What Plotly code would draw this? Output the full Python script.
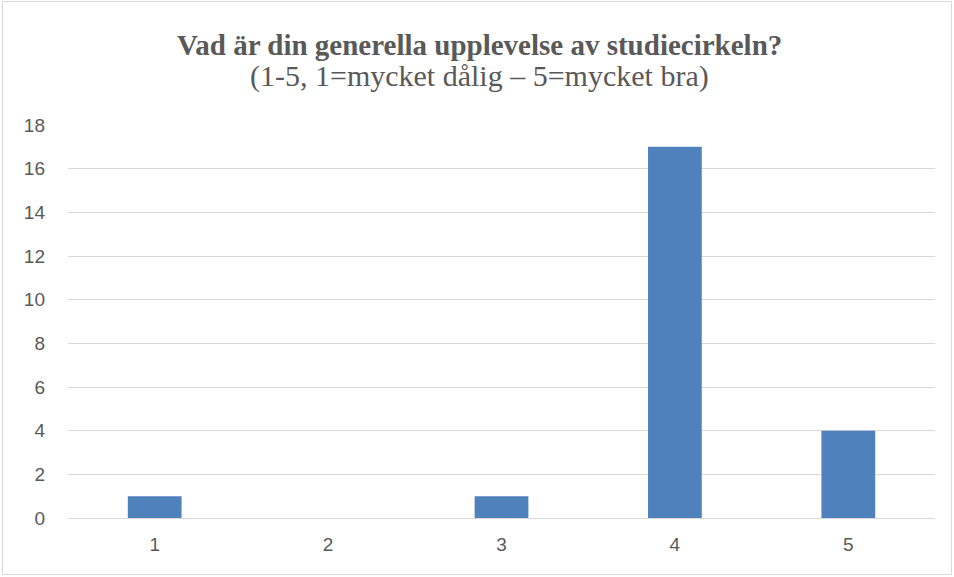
import plotly.graph_objects as go

categories = ["1", "2", "3", "4", "5"]
values = [1, 0, 1, 17, 4]
y_ticks = [0, 2, 4, 6, 8, 10, 12, 14, 16, 18]

title_text = "Vad är din generella upplevelse av studiecirkeln?"
subtitle_text = "(1-5, 1=mycket dålig – 5=mycket bra)"

W, H = 954, 577
L, R, T, B = 68, 19, 125, 59
pw, ph = W - L - R, H - T - B

def px(x):
    return (x - L) / pw

def py(y):
    return (H - B - y) / ph

tick_font = dict(family="Liberation Sans, Arial, sans-serif", size=19, color="#595959")

fig = go.Figure(go.Bar(
    x=categories, y=values,
    marker=dict(color="#4F81BD", line=dict(width=0)),
    width=0.31,
))

fig.update_layout(
    width=W, height=H,
    margin=dict(l=L, r=R, t=T, b=B),
    paper_bgcolor="white", plot_bgcolor="white",
    showlegend=False,
    font=tick_font,
    xaxis=dict(type="category", showgrid=False, showline=False, ticks="",
               ticklabelstandoff=13, tickfont=tick_font),
    yaxis=dict(range=[0, 18], tickvals=y_ticks, showgrid=True, gridcolor="#D9D9D9",
               gridwidth=1, zeroline=True, zerolinecolor="#D9D9D9", zerolinewidth=1,
               showline=False, ticks="", ticklabelstandoff=22, tickfont=tick_font),
    annotations=[
        dict(text="<b>" + title_text + "</b>", xref="paper", yref="paper",
             x=px(479), y=py(45), xanchor="center", yanchor="middle", showarrow=False,
             font=dict(family="Liberation Serif, Times New Roman, serif", size=29, color="#595959")),
        dict(text=subtitle_text, xref="paper", yref="paper",
             x=px(479), y=py(76), xanchor="center", yanchor="middle", showarrow=False,
             font=dict(family="Liberation Serif, Times New Roman, serif", size=30, color="#595959")),
    ],
    shapes=[
        dict(type="rect", xref="paper", yref="paper",
             x0=px(2.5), x1=px(951.5), y0=py(574.5), y1=py(1.5),
             line=dict(color="#D9D9D9", width=1), fillcolor="rgba(0,0,0,0)", layer="below"),
    ],
)

fig.write_html("out.html", config={"displayModeBar": False},
               post_script="document.body.style.margin='0';document.body.style.overflow='hidden';")
